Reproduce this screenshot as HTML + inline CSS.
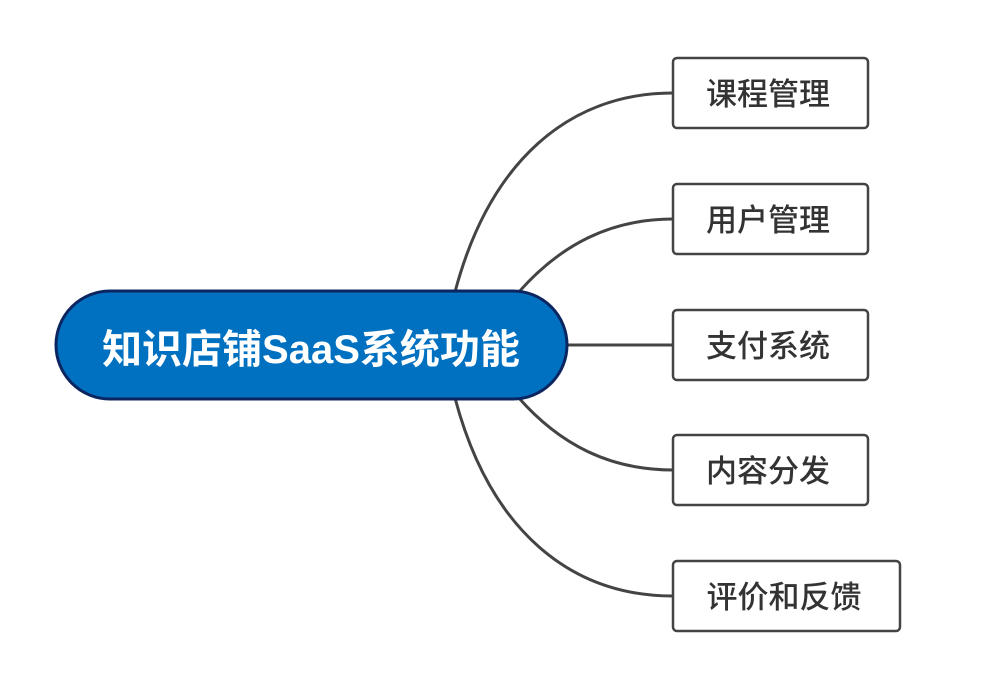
<!DOCTYPE html>
<html><head><meta charset="utf-8"><style>
body{margin:0;background:#fff;width:1000px;height:676px;overflow:hidden}
svg{position:absolute;left:0;top:0}
</style></head><body>
<svg width="1000" height="676" xmlns="http://www.w3.org/2000/svg" font-family="'Liberation Sans','Noto Sans CJK SC',sans-serif">
<g fill="none" stroke="#444" stroke-width="3">
<path d="M455,292 C490,160 570,93 673,93"/>
<path d="M518,293 C560,245 610,219 673,219"/>
<path d="M566,345 L673,345"/>
<path d="M518,397 C560,445 610,470 673,470"/>
<path d="M455,398 C490,530 570,596 673,596"/>
</g>
<rect x="56" y="291" width="511" height="108" rx="54" fill="#0070c0" stroke="#0b2560" stroke-width="3"/>
<text x="311" y="363" text-anchor="middle" font-size="40" font-weight="bold" fill="#fff">知识店铺SaaS系统功能</text>
<g fill="#fff" stroke="#444" stroke-width="2.5">
<rect x="673" y="58" width="195" height="70" rx="4"/>
<rect x="673" y="184" width="195" height="70" rx="4"/>
<rect x="673" y="310" width="195" height="70" rx="4"/>
<rect x="673" y="435" width="195" height="70" rx="4"/>
<rect x="673" y="561" width="227" height="70" rx="4"/>
</g>
<g font-size="31" fill="#333" text-anchor="middle" font-weight="500">
<text x="768" y="105">课程管理</text>
<text x="768" y="231">用户管理</text>
<text x="768" y="357">支付系统</text>
<text x="768" y="482">内容分发</text>
<text x="784" y="608">评价和反馈</text>
</g>
</svg>
</body></html>
